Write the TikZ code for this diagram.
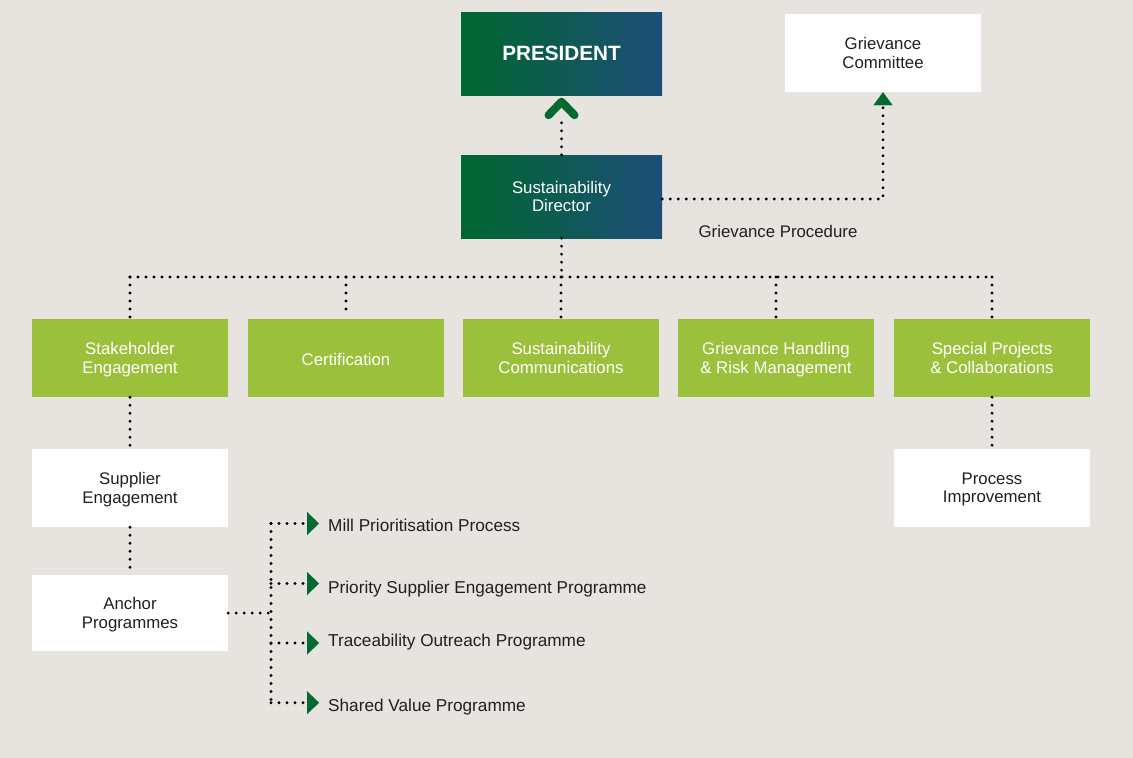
\documentclass[tikz,border=0pt]{standalone}
\usepackage{fontspec}
\setmainfont{Liberation Sans}
\usetikzlibrary{arrows.meta,calc}
\definecolor{bgc}{HTML}{E7E3DF}
\definecolor{lgreen}{HTML}{9BC03C}
\definecolor{dgreen}{HTML}{00672F}
\definecolor{dblue}{HTML}{1D4E79}
\definecolor{agreen}{HTML}{036A32}
\definecolor{ink}{HTML}{231F20}
\tikzset{
  base/.style={minimum width=196pt, minimum height=78pt, inner sep=0pt, align=center,
    text depth=0pt, execute at begin node={\rule{0pt}{14.5pt}},
    font=\fontsize{16.8}{18.3}\selectfont},
  gradbox/.style={base, minimum width=201pt, minimum height=83pt, left color=dgreen, right color=dblue, text=white},
  gbox/.style={base, fill=lgreen, text=white},
  wbox/.style={base, fill=white, text=ink},
  lbl/.style={inner sep=0pt, text=ink, font=\fontsize{16.8}{19}\selectfont},
  plbl/.style={lbl, anchor=base west, font=\fontsize{17.2}{19}\selectfont},
  dots/.style={line width=3.1pt, line cap=round, dash pattern=on 0pt off 8pt, draw=black},
  tri/.style={-{Triangle[length=12pt, width=23pt, line width=0.01pt, color=agreen, fill=agreen]}},
  triup/.style={-{Triangle[length=13pt, width=19pt, line width=0.01pt, color=agreen, fill=agreen]}},
  chev/.style={draw=agreen, line width=8pt, line cap=round, line join=round}
}
\begin{document}
\begin{tikzpicture}[x=1pt,y=-1pt]
\useasboundingbox[fill=bgc] (0,0) rectangle (1133,758);

\node[gradbox, font=\fontsize{20.7}{24}\selectfont\bfseries] (pres) at (561.5,53.5) {PRESIDENT};
\node[wbox, minimum height=78pt] (gc) at (883,53) {Grievance\\Committee};
\node[gradbox] (dir) at (561.5,196.5) {Sustainability\\Director};
\node[lbl] (gp) at (778,231) {Grievance Procedure};

\node[gbox] (stake) at (130,358) {Stakeholder\\Engagement};
\node[gbox] (cert) at (346,358) {Certification};
\node[gbox] (scom) at (561,358) {Sustainability\\Communications};
\node[gbox] (grm) at (776,358) {Grievance Handling\\\& Risk Management};
\node[gbox] (spc) at (992,358) {Special Projects\\\& Collaborations};

\node[wbox] (sup) at (130,488) {Supplier\\Engagement};
\node[wbox, minimum height=76pt] (anc) at (130,613) {Anchor\\Programmes};
\node[wbox] (pim) at (992,488) {Process\\Improvement};

\node[plbl] (p1) at (328,531.7) {Mill Prioritisation Process};
\node[plbl] (p2) at (328,593.3) {Priority Supplier Engagement Programme};
\node[plbl] (p3) at (328,646.7) {Traceability Outreach Programme};
\node[plbl] (p4) at (328,711.7) {Shared Value Programme};
\coordinate (t1) at ($(p1.base west)+(-9,-8.2)$);
\coordinate (t2) at ($(p2.base west)+(-9,-9.8)$);
\coordinate (t3) at ($(p3.base west)+(-9,-3.7)$);
\coordinate (t4) at ($(p4.base west)+(-9,-9)$);

% director to president
\draw[dots] (dir.north) -- ($(pres.south)+(0,21)$);
\draw[chev] ($(pres.south)+(-13,20)$) -- ($(pres.south)+(0,6.5)$) -- ($(pres.south)+(13,20)$);

% grievance procedure
\coordinate (gk) at ($(dir.east)+(0,2.5)$);
\draw[dots, triup] (gk) -- (gk -| gc.south) -- (gc.south);

% director to bar
\coordinate (bar) at (561.5,277);
\draw[dots] (dir.south) -- (bar);
\draw[dots] (bar -| stake.north) -- (bar -| spc.north);
\draw[dots] (bar -| stake.north) -- (stake.north);
\draw[dots] (bar -| cert.north) -- ($(cert.north)+(0,-7)$);
\draw[dots] (bar -| scom.north) -- (scom.north);
\draw[dots] (bar -| grm.north) -- (grm.north);
\draw[dots] (bar -| spc.north) -- (spc.north);

% vertical chains
\draw[dots] (stake.south) -- (sup.north);
\draw[dots] (sup.south) -- (anc.north);
\draw[dots] (spc.south) -- (pim.north);

% programmes
\coordinate (jx) at (271,613);
\draw[dots] (anc.east) -- (jx);
\draw[dots] (jx |- t1) -- (jx |- t4);
\foreach \t in {t1,t2,t3,t4}{
  \draw[dots, tri] (jx |- \t) -- (\t);
}
\end{tikzpicture}
\end{document}
